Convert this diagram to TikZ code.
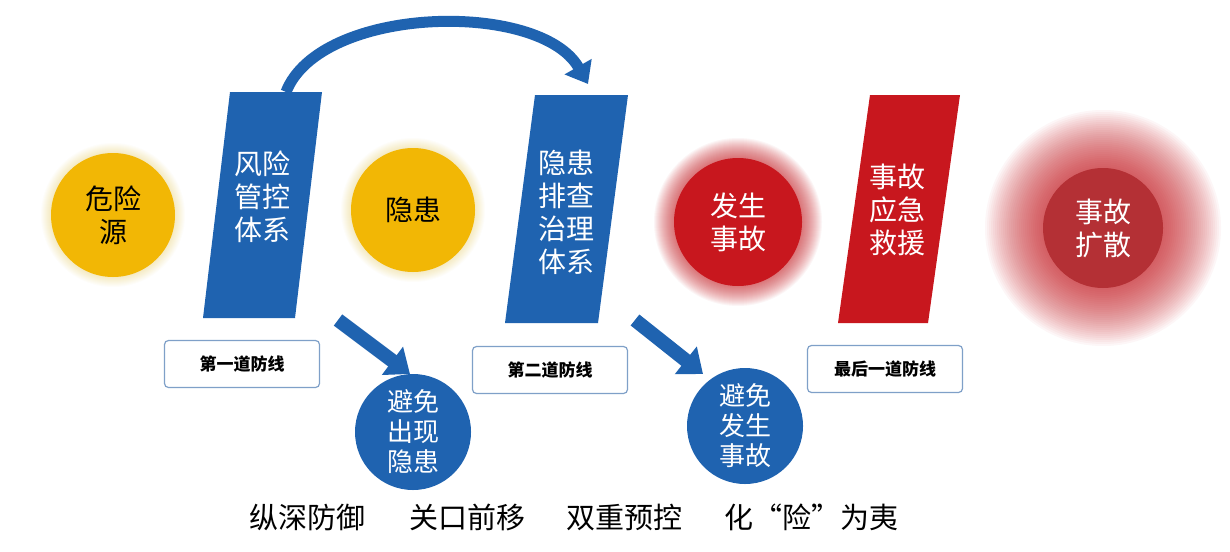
\documentclass[tikz,border=0pt]{standalone}
\usepackage{fontspec}
\newfontfamily\cjk{Noto Sans CJK SC}
\usetikzlibrary{arrows.meta}
\definecolor{bl}{HTML}{1F63B0}
\definecolor{yl}{HTML}{F2B705}
\definecolor{rd}{HTML}{C8171E}
\definecolor{bd}{HTML}{7FA0C8}
\tikzset{
  lbl/.style={draw=bd,line width=1.2pt,rounded corners=4pt,fill=white,minimum width=155pt,minimum height=47pt,font=\cjk\bfseries\fontsize{17}{18}\selectfont},
  wt/.style={text=white,font=\cjk\fontsize{28}{33}\selectfont,align=center},
  bk/.style={text=black,font=\cjk\fontsize{28}{33}\selectfont,align=center},
  bigarrow/.style={-{Triangle[length=22pt,width=34pt]},line width=14pt,bl},
  btm/.style={font=\cjk\fontsize{29}{30}\selectfont,anchor=west}
}
\begin{document}
\begin{tikzpicture}[x=1pt,y=-1pt]
\useasboundingbox (0,0) rectangle (1230,551);
\fill[white] (0,0) rectangle (1230,551);
% glows
\foreach \r in {62,63,...,72}{\fill[yl,opacity=0.025] (113,215) circle (\r);}
\foreach \r in {62,63,...,72}{\fill[yl,opacity=0.025] (413,210) circle (\r);}
\foreach \r in {64,65,...,84}{\fill[rd,opacity=0.04] (738,222) circle (\r);}
\foreach \r in {60,62,...,118}{\fill[rd,opacity=0.035] (1103,228) circle (\r);}
\node[circle,fill=yl,minimum size=124pt,bk] (c1) at (113,215) {危险\\源};
\node[circle,fill=yl,minimum size=124pt,bk] (c2) at (413,210) {隐患};
\node[circle,fill=rd,minimum size=128pt,wt] (c3) at (738,222) {发生\\事故};
\node[circle,fill=rd!80!black,opacity=0.6,minimum size=120pt] (c4) at (1103,228) {};
\node[wt] at (c4) {事故\\扩散};
% parallelograms
\fill[bl] (230,92) -- (322,92) -- (295,318) -- (203,318) -- cycle;
\node[wt] (p1) at (262,197) {风险\\管控\\体系};
\fill[bl] (535,95) -- (628,95) -- (598,323) -- (505,323) -- cycle;
\node[wt] (p2) at (566,212) {隐患\\排查\\治理\\体系};
\fill[rd] (870,95) -- (960,95) -- (928,323) -- (838,323) -- cycle;
\node[wt] (p3) at (897,210) {事故\\应急\\救援};
% top arc
\coordinate (a1) at (286,92);
\coordinate (a2) at (588,84);
\draw[bl,line width=11pt,-{Triangle[length=20pt,width=30pt]}] (a1) .. controls (320,5) and (540,0) .. (a2);
% labels
\node[lbl] (l1) at (242,364) {第一道防线};
\node[lbl] (l2) at (550,370) {第二道防线};
\node[lbl] (l3) at (885,369) {最后一道防线};
% diagonal arrows
\coordinate (d1s) at (338,320); \coordinate (d1e) at (410,374);
\coordinate (d2s) at (635,320); \coordinate (d2e) at (703,374);
\draw[bigarrow] (d1s) -- (d1e);
\draw[bigarrow] (d2s) -- (d2e);
% blue circles
\node[circle,fill=bl,minimum size=116pt,wt,font=\cjk\fontsize{26}{30}\selectfont] (b1) at (413,432) {避免\\出现\\隐患};
\node[circle,fill=bl,minimum size=116pt,wt,font=\cjk\fontsize{26}{30}\selectfont] (b2) at (745,426) {避免\\发生\\事故};
% bottom text
\node[btm] (t1) at (246,517) {纵深防御};
\node[btm] (t2) at (406,517) {关口前移};
\node[btm] (t3) at (563,517) {双重预控};
\node[btm] (t4) at (721,517) {化“险”为夷};
\end{tikzpicture}
\end{document}
